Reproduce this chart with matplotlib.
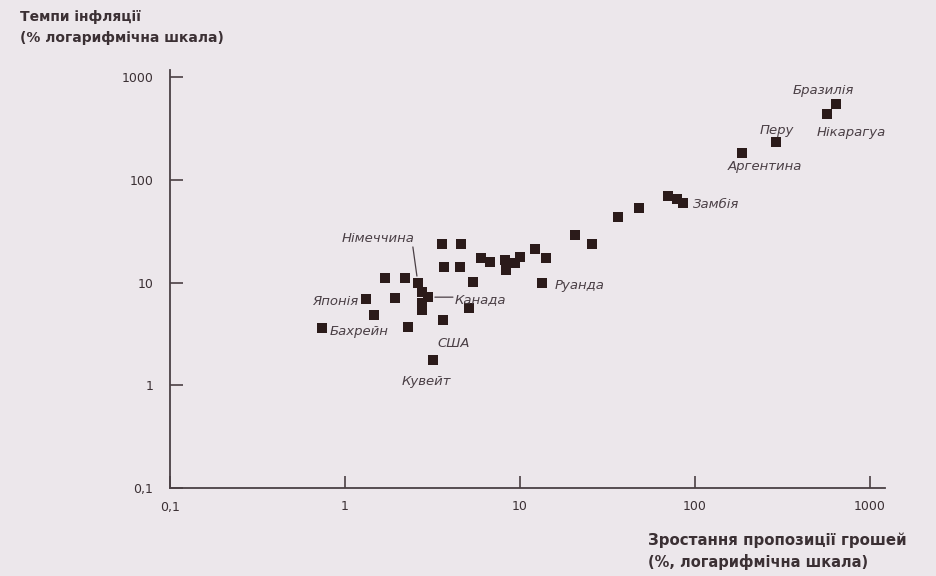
import matplotlib
matplotlib.use('Agg')
import matplotlib.pyplot as plt
from matplotlib.ticker import FixedLocator, FixedFormatter, NullLocator

# money growth (%) and inflation (%)
money_growth = [0.74, 1.32, 1.46, 1.69, 1.93, 2.2, 2.29, 2.61, 2.75, 2.98,
                2.75, 2.75, 3.18, 3.63, 3.58, 4.6, 3.68, 4.54, 5.39, 5.11,
                5.99, 6.74, 8.2, 8.3, 9.36, 10.0, 12.2, 14.1, 13.4, 20.6,
                25.8, 36.3, 47.9, 70.1, 78.9, 85.4, 186, 290, 568, 640]
inflation = [3.6, 6.9, 4.8, 11.1, 7.1, 11.1, 3.7, 9.9, 8.1, 7.2,
             6.3, 5.4, 1.76, 4.3, 23.7, 23.7, 14.2, 14.2, 10.1, 5.65,
             17.3, 15.8, 16.6, 13.2, 15.5, 17.7, 21.2, 17.3, 9.9, 29.0,
             23.7, 43.4, 53.1, 69.5, 65.0, 59.4, 182, 233, 437, 546]

# country labels: name, index of its point
countries = ['Бахрейн', 'Японія', 'Німеччина', 'Канада', 'США', 'Кувейт',
             'Руанда', 'Замбія', 'Аргентина', 'Перу', 'Нікарагуа', 'Бразилія']
country_idx = [0, 1, 7, 9, 13, 12, 28, 35, 36, 37, 38, 39]

ticks = [0.1, 1, 10, 100, 1000]
tick_labels = ['0,1', '1', '10', '100', '1000']

bg = '#ece7eb'
ink = '#3b3034'

fig = plt.figure(figsize=(9.36, 5.76), dpi=100, facecolor=bg)
ax = fig.add_axes([170 / 936, 1 - 488 / 576, 715 / 936, 418 / 576])
ax.set_facecolor(bg)
ax.set_xscale('log')
ax.set_yscale('log')
ax.set_xlim(0.1, 1220)
ax.set_ylim(0.1, 1170)

ax.scatter(money_growth, inflation, marker='s', s=60, color='#2b1b1a',
           linewidths=0, zorder=3)

for sp in ['top', 'right']:
    ax.spines[sp].set_visible(False)
for sp in ['left', 'bottom']:
    ax.spines[sp].set_color('#4a4044')
    ax.spines[sp].set_linewidth(1.3)

ax.xaxis.set_major_locator(FixedLocator(ticks))
ax.xaxis.set_major_formatter(FixedFormatter(tick_labels))
ax.yaxis.set_major_locator(FixedLocator(ticks))
ax.yaxis.set_major_formatter(FixedFormatter(tick_labels))
ax.xaxis.set_minor_locator(NullLocator())
ax.yaxis.set_minor_locator(NullLocator())
ax.tick_params(axis='x', direction='in', length=9, width=1.2, color='#4a4044',
               labelsize=9, labelcolor=ink, pad=9)
ax.tick_params(axis='y', direction='in', length=9, width=1.2, color='#4a4044',
               labelsize=9, labelcolor=ink, pad=12)

# label offsets in pixels (dx, dy), alignment, leader line start
offsets = {
    'Бахрейн': (8, -3, 'left', None),
    'Японія': (-8, -2, 'right', None),
    'Німеччина': (-40, 44, 'center', (-5, 36)),
    'Канада': (27, -2, 'left', (25, 0)),
    'США': (11, -23, 'center', None),
    'Кувейт': (-6, -21, 'center', None),
    'Руанда': (12, -3, 'left', None),
    'Замбія': (10, -2, 'left', None),
    'Аргентина': (23, -13, 'center', None),
    'Перу': (1, 12, 'center', None),
    'Нікарагуа': (24, -19, 'center', None),
    'Бразилія': (-13, 14, 'center', None),
}
for name, i in zip(countries, country_idx):
    dx, dy, ha, line = offsets[name]
    ax.annotate(name, (money_growth[i], inflation[i]), xytext=(dx, dy),
                textcoords='offset pixels', ha=ha, va='center',
                fontsize=9.5, style='italic', color='#4a3f45', zorder=4)
    if line is not None:
        ax.annotate('', (money_growth[i], inflation[i]), xytext=line,
                    textcoords='offset pixels',
                    arrowprops=dict(arrowstyle='-', color='#4a3f45', lw=0.9,
                                    shrinkA=0, shrinkB=5))

fig.text(20 / 936, 1 - 17 / 576, 'Темпи інфляції', fontsize=10,
         fontweight='bold', color=ink, va='center', ha='left')
fig.text(20 / 936, 1 - 38 / 576, '(% логарифмічна шкала)', fontsize=10,
         fontweight='bold', color=ink, va='center', ha='left')
fig.text(648 / 936, 1 - 540 / 576, 'Зростання пропозиції грошей', fontsize=10.8,
         fontweight='bold', color=ink, va='center', ha='left')
fig.text(648 / 936, 1 - 562 / 576, '(%, логарифмічна шкала)', fontsize=10.5,
         fontweight='bold', color=ink, va='center', ha='left')

fig.savefig('out.png', dpi=100, facecolor=bg)
